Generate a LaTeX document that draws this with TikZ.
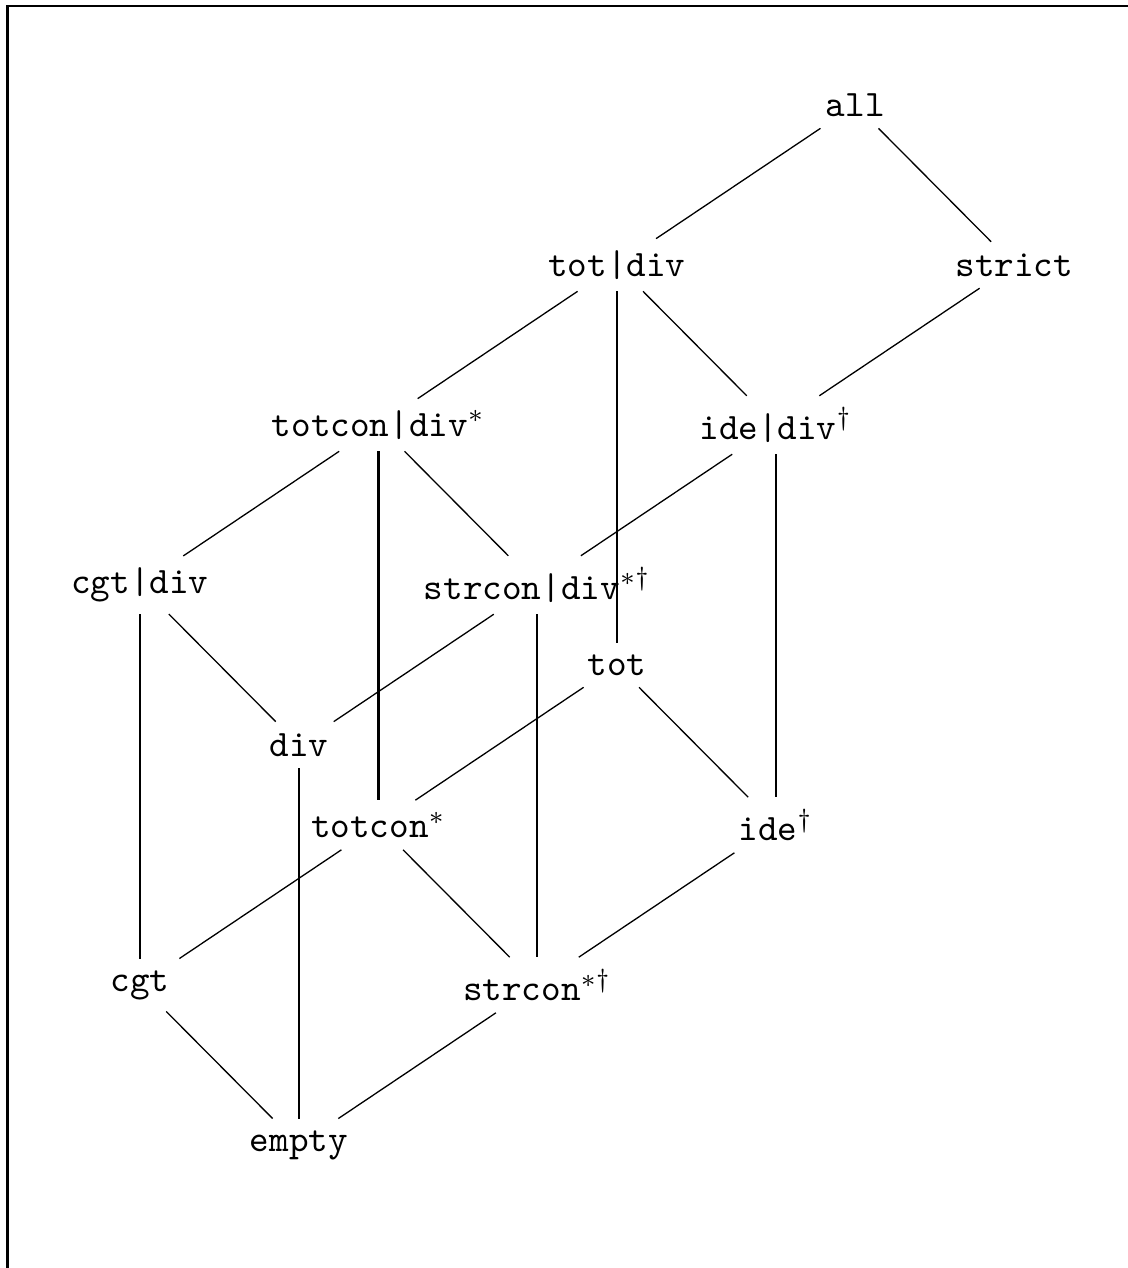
\documentclass[tikz,border=0pt]{standalone}
\begin{document}
\begin{tikzpicture}[x=21.3pt,y=-21.44pt,line width=0.35pt,
  every node/.style={font=\ttfamily,inner sep=3pt},
  vline/.style={line width=0.6pt}]
  \useasboundingbox (-1.761,-1.3125) rectangle (12.428,14.5375);
  % frame
  \draw[line width=0.7pt] (-1.667,14.7) -- (-1.667,-1.235) -- (12.6,-1.235);
  % top
  \node (all) at (9,0) {all};
  \node (totdiv) at (6,2) {tot|div};
  \node (strict) at (11,2) {strict};
  % middle layers
  \node (totcondiv) at (3,4) {totcon|div$^*$};
  \node (idediv) at (8,4) {ide|div$^\dagger$};
  \node (cgtdiv) at (0,6) {cgt|div};
  \node (strcondiv) at (5,6) {strcon|div$^{*\dagger}$};
  \node (tot) at (6,7) {tot};
  \node (div) at (2,8) {div};
  \node (totcon) at (3,9) {totcon$^*$};
  \node (ide) at (8,9) {ide$^\dagger$};
  % bottom
  \node (cgt) at (0,11) {cgt};
  \node (strcon) at (5,11) {strcon$^{*\dagger}$};
  \node (empty) at (2,13) {empty};
  % edges from the top
  \draw (all) -- (totdiv);
  \draw (all) -- (strict);
  \draw (totdiv) -- (totcondiv);
  \draw (totdiv) -- (idediv);
  \draw[vline] (totdiv) -- (tot);
  \draw (strict) -- (idediv);
  % edges from the second layer
  \draw (totcondiv) -- (cgtdiv);
  \draw (totcondiv) -- (strcondiv);
  \draw[vline] (totcondiv) -- (totcon);
  \draw (idediv) -- (strcondiv);
  \draw[vline] (idediv) -- (ide);
  \draw (cgtdiv) -- (div);
  \draw[vline] (cgtdiv) -- (cgt);
  \draw (strcondiv) -- (div);
  \draw[vline] (strcondiv) -- (strcon);
  % edges to the bottom
  \draw (tot) -- (totcon);
  \draw (tot) -- (ide);
  \draw[vline] (div) -- (empty);
  \draw (totcon) -- (cgt);
  \draw (totcon) -- (strcon);
  \draw (ide) -- (strcon);
  \draw (cgt) -- (empty);
  \draw (strcon) -- (empty);
\end{tikzpicture}
\end{document}
